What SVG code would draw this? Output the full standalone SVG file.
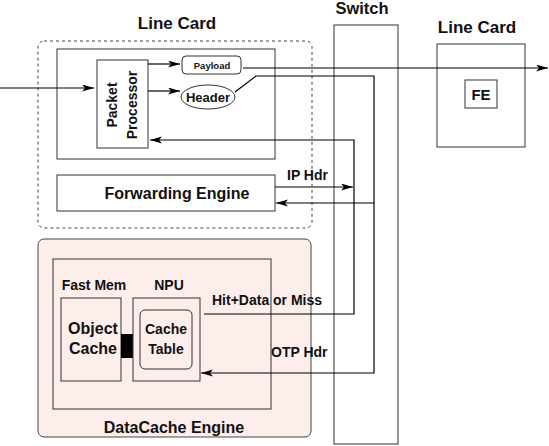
<svg xmlns="http://www.w3.org/2000/svg" width="549" height="446" viewBox="0 0 549 446">
<defs>
<marker id="ah" markerUnits="userSpaceOnUse" markerWidth="13" markerHeight="8" refX="12" refY="3.5" orient="auto">
<path d="M0,0 L12,3.5 L0,7 L3,3.5 Z" fill="#000"/>
</marker>
<style>
text{font-family:"Liberation Sans",Arial,sans-serif;font-weight:bold;fill:#111}
.box{fill:#fff;stroke:#333;stroke-width:1}
.nofill{fill:none;stroke:#333;stroke-width:1}
.c{text-anchor:middle}
.conn path{fill:none;stroke:#000;stroke-width:1.2}
</style>
</defs>
<rect width="549" height="446" fill="#fff"/>

<g id="linecard-left">
<rect x="38" y="41" width="274" height="187" rx="6" fill="none" stroke="#444" stroke-dasharray="3,3"/>
<text class="c" x="177" y="29" font-size="17">Line Card</text>
<rect class="box" x="57" y="49" width="218" height="110"/>
</g>
<g id="packet-processor">
<rect class="box" x="97" y="60" width="51" height="88"/>
<text class="c" font-size="14" transform="translate(117,105) rotate(-90)">Packet</text>
<text class="c" font-size="14" transform="translate(137,105) rotate(-90)">Processor</text>
</g>
<g id="payload">
<rect class="box" x="182" y="56" width="59" height="18" rx="4"/>
<text class="c" x="212" y="69" font-size="9.5">Payload</text>
</g>
<g id="header">
<ellipse class="box" cx="208" cy="97" rx="27" ry="12"/>
<text class="c" x="208" y="102" font-size="13">Header</text>
</g>
<g id="forwarding-engine">
<rect class="box" x="57" y="175" width="218" height="36"/>
<text class="c" x="177" y="199" font-size="16">Forwarding Engine</text>
</g>
<g id="switch">
<rect class="nofill" x="334" y="25" width="64" height="419"/>
<text class="c" x="362" y="14" font-size="16.5">Switch</text>
</g>
<g id="linecard-right">
<rect class="box" x="437" y="44" width="88" height="103"/>
<text class="c" x="477" y="33" font-size="17">Line Card</text>
</g>
<g id="fe">
<rect class="box" x="465" y="80" width="32" height="28"/>
<text class="c" x="481" y="100" font-size="15">FE</text>
</g>
<g id="datacache-engine">
<rect x="38" y="239" width="273" height="198" rx="6" fill="#fdeeec" stroke="#444"/>
<rect class="nofill" x="53" y="259" width="218" height="150"/>
<text class="c" x="174" y="433" font-size="16">DataCache Engine</text>
</g>
<g id="object-cache">
<text class="c" x="94" y="290" font-size="14">Fast Mem</text>
<rect class="nofill" x="61" y="298" width="60" height="83"/>
<text class="c" x="93" y="334" font-size="16">Object</text>
<text class="c" x="93" y="354" font-size="16">Cache</text>
</g>
<g id="bus">
<rect x="121" y="334" width="12" height="24" fill="#000"/>
</g>
<g id="npu">
<text class="c" x="169" y="290" font-size="14">NPU</text>
<rect class="nofill" x="133" y="298" width="67" height="83"/>
<rect class="nofill" x="140" y="310" width="52" height="59" rx="5"/>
<text class="c" x="166" y="334" font-size="14">Cache</text>
<text class="c" x="166" y="354" font-size="14">Table</text>
</g>

<g id="connectors" class="conn">
<path d="M0,88 H94" marker-end="url(#ah)"/>
<path d="M148,64 H180" marker-end="url(#ah)"/>
<path d="M148,91 H180" marker-end="url(#ah)"/>
<path d="M243,68 H548" marker-end="url(#ah)"/>
<path d="M235,92 L256,76 H374 V373 H201" marker-end="url(#ah)"/>
<path d="M374,203 H276" marker-end="url(#ah)"/>
<path d="M204,314 H354 V140 H150" marker-end="url(#ah)"/>
<path d="M275,187 H353" marker-end="url(#ah)"/>
</g>
<g id="labels">
<text x="287" y="180" font-size="14">IP Hdr</text>
<text x="212" y="305" font-size="14">Hit+Data or Miss</text>
<text x="271" y="357" font-size="14">OTP Hdr</text>
</g>
</svg>
